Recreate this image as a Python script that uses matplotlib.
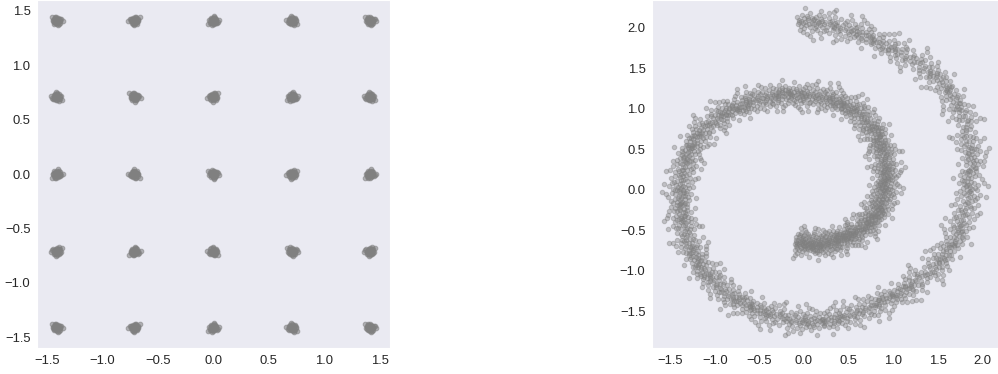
import numpy as np
import matplotlib
matplotlib.use("Agg")
import matplotlib.pyplot as plt
import seaborn as sns

sns.set_style("dark")
plt.rcParams["font.family"] = ["Liberation Sans", "DejaVu Sans"]

# 25 gaussians: grid of cluster centres
grid_vals = [-1.41, -0.71, 0.0, 0.71, 1.41]

# swiss roll: centre line of the band, polar angle (deg, unwrapped) and radius
spiral_angle = [269, 285, 300, 315, 330, 345, 360, 375, 390, 405, 420, 435, 450,
                465, 480, 495, 510, 525, 540, 555, 570, 585, 600, 615, 630, 645,
                660, 675, 690, 705, 720, 735, 750, 765, 780, 794, 806]
spiral_radius = [0.66, 0.70, 0.73, 0.78, 0.83, 0.87, 0.91, 0.96, 1.01, 1.08, 1.14,
                 1.16, 1.16, 1.20, 1.25, 1.31, 1.36, 1.37, 1.39, 1.42, 1.46, 1.51,
                 1.56, 1.59, 1.62, 1.63, 1.64, 1.69, 1.76, 1.81, 1.86, 1.94, 2.01,
                 2.03, 2.01, 2.04, 2.06]

# spread of the samples around each cluster centre (dx, dy)
blob = np.array([
    (0.000, 0.004), (0.012, -0.008), (-0.015, 0.010), (0.021, 0.017), (-0.006, -0.022),
    (0.028, -0.003), (-0.025, -0.012), (0.009, 0.026), (-0.018, 0.024), (0.017, -0.027),
    (-0.031, 0.002), (0.004, -0.012), (0.024, 0.008), (-0.010, -0.004), (0.006, 0.014),
    (-0.022, -0.026), (0.033, 0.019), (-0.004, 0.032), (0.014, -0.016), (-0.028, 0.018),
    (0.019, 0.001), (-0.013, -0.017), (0.002, -0.031), (0.026, -0.019), (-0.008, 0.020),
    (0.011, 0.009), (-0.035, -0.006), (0.041, 0.012), (-0.016, 0.037), (0.007, -0.043),
    (0.055, -0.006), (-0.046, 0.031),
])

# spread of the samples around each spiral knot (fraction of knot gap, radial offset)
band = np.array([
    (-0.48, 0.021), (-0.45, -0.064), (-0.43, 0.098), (-0.41, -0.012), (-0.38, 0.047),
    (-0.36, -0.105), (-0.34, 0.005), (-0.31, 0.071), (-0.29, -0.038), (-0.27, 0.132),
    (-0.25, -0.071), (-0.22, 0.018), (-0.20, -0.006), (-0.18, 0.089), (-0.16, -0.047),
    (-0.14, 0.034), (-0.12, -0.122), (-0.10, 0.059), (-0.08, -0.021), (-0.06, 0.011),
    (-0.04, 0.104), (-0.02, -0.083), (0.00, 0.027), (0.02, -0.031), (0.04, 0.076),
    (0.06, -0.009), (0.08, 0.043), (0.10, -0.097), (0.12, 0.002), (0.14, 0.062),
    (0.16, -0.055), (0.18, 0.118), (0.20, -0.017), (0.22, 0.029), (0.24, -0.139),
    (0.26, 0.081), (0.28, -0.026), (0.30, 0.008), (0.32, -0.068), (0.34, 0.052),
    (0.36, -0.003), (0.38, 0.094), (0.40, -0.044), (0.42, 0.015), (0.44, -0.088),
    (0.46, 0.039), (0.48, -0.015), (0.50, 0.066), (-0.47, -0.028), (-0.33, 0.026),
    (-0.21, -0.092), (-0.09, 0.148), (0.03, -0.058), (0.11, 0.031), (0.23, 0.057),
    (0.35, -0.113), (0.47, 0.004), (-0.39, 0.155), (0.15, -0.160), (-0.03, -0.004),
    (-0.44, 0.192), (0.07, -0.205), (0.31, 0.178), (-0.17, -0.184),
])

flips = [(1, 1), (-1, 1), (1, -1), (-1, -1)]

gx, gy = [], []
for i, cx in enumerate(grid_vals):
    for j, cy in enumerate(grid_vals):
        fx, fy = flips[(i * 5 + j) % 4]
        gx.extend(cx + fx * blob[:, 0])
        gy.extend(cy + fy * blob[:, 1])

ang = np.array(spiral_angle, dtype=float)
rad = np.array(spiral_radius)
gap = np.gradient(ang)
sx_pts, sy_pts = [], []
for k in range(len(ang)):
    fa, fr = flips[k % 4]
    th = np.deg2rad(ang[k] + fa * band[:, 0] * gap[k])
    r = rad[k] + fr * band[:, 1]
    sx_pts.extend(r * np.cos(th))
    sy_pts.extend(r * np.sin(th))

fig = plt.figure(figsize=(9.98, 3.74), dpi=100)
ax1 = fig.add_axes([0.0368, 0.0687, 0.354, 0.9313])
ax2 = fig.add_axes([0.653, 0.0687, 0.347, 0.9313])

ax1.scatter(gx, gy, s=11, color="grey", alpha=0.55, linewidths=0.8)
ax1.set_xlim(-1.59, 1.59)
ax1.set_ylim(-1.60, 1.60)

ax2.scatter(sx_pts, sy_pts, s=10, color="grey", alpha=0.4, linewidths=0.8)
ax2.set_xlim(-1.71, 2.18)
ax2.set_ylim(-1.96, 2.34)
ax2.set_xticks([-1.5, -1.0, -0.5, 0.0, 0.5, 1.0, 1.5, 2.0])
ax2.set_yticks([-1.5, -1.0, -0.5, 0.0, 0.5, 1.0, 1.5, 2.0])

for ax in (ax1, ax2):
    ax.tick_params(labelsize=9.4, length=0, pad=4.5)

fig.savefig("out.png", dpi=100)
